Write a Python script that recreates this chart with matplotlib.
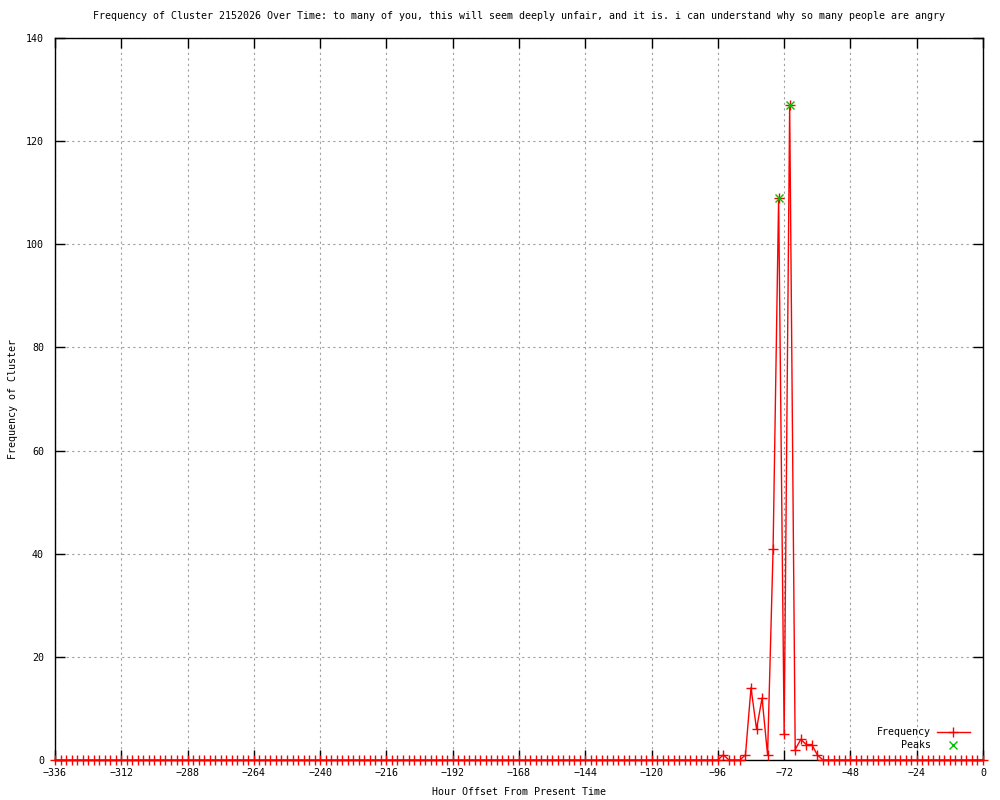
import matplotlib
matplotlib.use("Agg")
import matplotlib.pyplot as plt

# Data: hourly offsets every 2 hours, -336..0
hours = list(range(-336, 1, 2))
nonzero = {-94: 1, -86: 1, -84: 14, -82: 6, -80: 12, -78: 1, -76: 41,
           -74: 109, -72: 5, -70: 127, -68: 2, -66: 4, -64: 3, -62: 3, -60: 1}
freq = [nonzero.get(h, 0) for h in hours]
peak_hours = [-74, -70]
peak_vals = [109, 127]

title = ("Frequency of Cluster 2152026 Over Time: to many of you, this will seem "
         "deeply unfair, and it is. i can understand why so many people are angry")
xticks = list(range(-336, 1, 24))
yticks = list(range(0, 141, 20))

plt.rcParams['font.family'] = ['DejaVu Sans Mono']
fs = 7.2

fig = plt.figure(figsize=(10, 8), dpi=100)
ax = fig.add_axes([0.055, 0.05, 0.928, 0.9025])

ax.plot(hours, freq, color='#ff0000', lw=1, marker='+', ms=6.5, mew=1,
        label='Frequency', zorder=3, clip_on=False)
ax.plot(peak_hours, peak_vals, linestyle='none', color='#00c000', marker='x',
        ms=6, mew=1, label='Peaks', zorder=4)

ax.set_xlim(-336, 0)
ax.set_ylim(0, 140)
ax.set_xticks(xticks)
ax.set_yticks(yticks)
ax.set_xticklabels([str(t).replace('-', '\u2212') for t in xticks], fontsize=fs)
ax.set_yticklabels([str(t) for t in yticks], fontsize=fs)
ax.tick_params(direction='in', length=7, width=1, top=True, right=True,
               colors='black', pad=6)
ax.tick_params(axis='y', pad=8)
for s in ax.spines.values():
    s.set_linewidth(1)
    s.set_color('black')
ax.grid(True, color='#a0a0a0', linestyle=(0, (2, 3)), linewidth=0.8)
ax.set_axisbelow(True)

ax.set_title(title, fontsize=fs, pad=14)
ax.set_xlabel('Hour Offset From Present Time', fontsize=fs, labelpad=6)
fig.text(0.013, 0.50125, 'Frequency of Cluster', rotation=90, fontsize=fs,
         ha='center', va='center')

leg = ax.legend(loc='lower right', bbox_to_anchor=(1 - 4 / 928, 0),
                frameon=False, markerfirst=False,
                fontsize=fs, handlelength=3.3, borderaxespad=0.55,
                labelspacing=0.35, handletextpad=0.6)
for t in leg.get_texts():
    t.set_ha('right')

fig.savefig('out.png', dpi=100)
